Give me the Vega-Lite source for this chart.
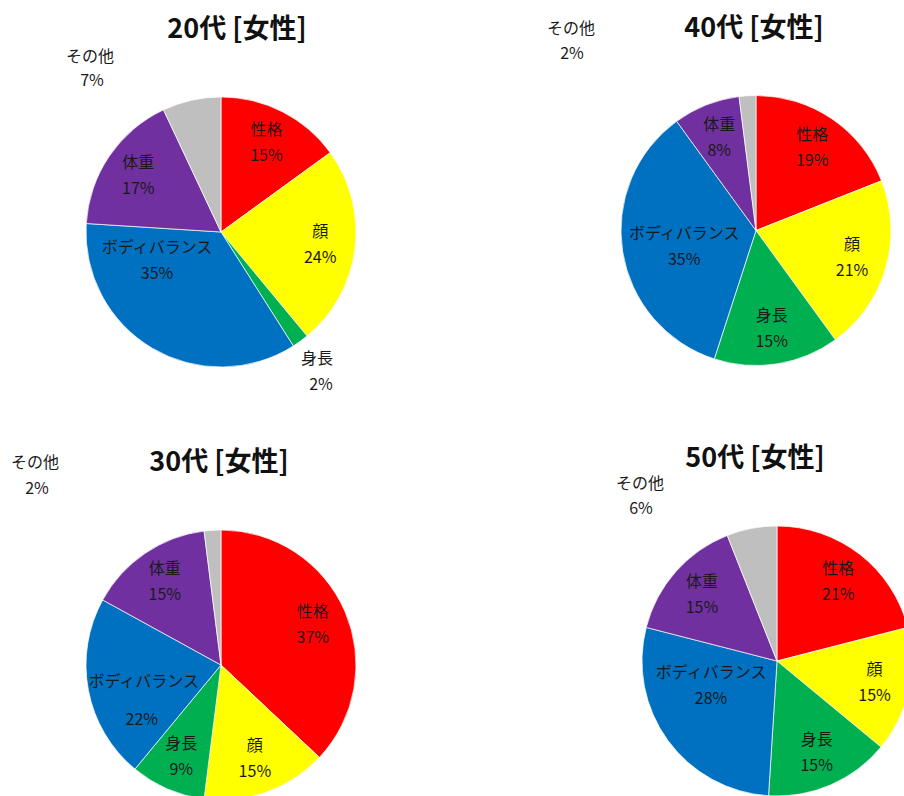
{
  "$schema": "https://vega.github.io/schema/vega-lite/v6.json",
  "background": "white",
  "padding": {"left": 10, "top": 14, "right": 0, "bottom": 0},
  "datasets": {
    "pie": [
      {"group": "20代", "no": 1, "item": "性格", "share": 0.15},
      {"group": "20代", "no": 2, "item": "顔", "share": 0.24},
      {"group": "20代", "no": 3, "item": "身長", "share": 0.02},
      {"group": "20代", "no": 4, "item": "ボディバランス", "share": 0.35},
      {"group": "20代", "no": 5, "item": "体重", "share": 0.17},
      {"group": "20代", "no": 6, "item": "その他", "share": 0.07},
      {"group": "40代", "no": 1, "item": "性格", "share": 0.19},
      {"group": "40代", "no": 2, "item": "顔", "share": 0.21},
      {"group": "40代", "no": 3, "item": "身長", "share": 0.15},
      {"group": "40代", "no": 4, "item": "ボディバランス", "share": 0.35},
      {"group": "40代", "no": 5, "item": "体重", "share": 0.08},
      {"group": "40代", "no": 6, "item": "その他", "share": 0.02},
      {"group": "30代", "no": 1, "item": "性格", "share": 0.37},
      {"group": "30代", "no": 2, "item": "顔", "share": 0.15},
      {"group": "30代", "no": 3, "item": "身長", "share": 0.09},
      {"group": "30代", "no": 4, "item": "ボディバランス", "share": 0.22},
      {"group": "30代", "no": 5, "item": "体重", "share": 0.15},
      {"group": "30代", "no": 6, "item": "その他", "share": 0.02},
      {"group": "50代", "no": 1, "item": "性格", "share": 0.21},
      {"group": "50代", "no": 2, "item": "顔", "share": 0.15},
      {"group": "50代", "no": 3, "item": "身長", "share": 0.15},
      {"group": "50代", "no": 4, "item": "ボディバランス", "share": 0.28},
      {"group": "50代", "no": 5, "item": "体重", "share": 0.15},
      {"group": "50代", "no": 6, "item": "その他", "share": 0.06}
    ]
  },
  "bounds": "flush",
  "columns": 2,
  "spacing": {"row": 164, "column": 265},
  "concat": [
    {
      "width": 270, "height": 268,
      "title": {"text": "20代 [女性]", "dx": 16, "dy": -1},
      "data": {"name": "pie"},
      "transform": [{"filter": "datum.group === '20代'"}],
      "encoding": {
        "theta": {"field": "share", "type": "quantitative", "stack": true},
        "order": {"field": "no", "type": "quantitative"}
      },
      "layer": [
        {"mark": {"type": "arc", "outerRadius": 135, "stroke": "white", "strokeWidth": 0.7},
         "encoding": {"color": {"field": "item", "type": "nominal", "legend": null,
           "scale": {"domain": ["性格", "顔", "身長", "ボディバランス", "体重", "その他"], "range": ["#FF0000", "#FFFF00", "#00B050", "#0070C0", "#7030A0", "#BFBFBF"]}}}},
        {"mark": {"type": "text", "radius": 100, "dy": -13},
         "encoding": {"text": {"field": "item", "type": "nominal"},
           "opacity": {"condition": {"test": "datum.item === 'その他' || datum.item === '身長' || datum.item === 'ボディバランス'", "value": 0}, "value": 1}}},
        {"mark": {"type": "text", "radius": 100, "dy": 13},
         "encoding": {"text": {"field": "share", "type": "quantitative", "format": ".0%"},
           "opacity": {"condition": {"test": "datum.item === 'その他' || datum.item === '身長' || datum.item === 'ボディバランス'", "value": 0}, "value": 1}}},
        {"mark": {"type": "text", "radius": 100, "dx": -13, "dy": -70},
         "encoding": {"text": {"field": "item", "type": "nominal"},
           "opacity": {"condition": {"test": "datum.item === 'ボディバランス'", "value": 1}, "value": 0}}},
        {"mark": {"type": "text", "radius": 100, "dx": -13, "dy": -44},
         "encoding": {"text": {"field": "share", "type": "quantitative", "format": ".0%"},
           "opacity": {"condition": {"test": "datum.item === 'ボディバランス'", "value": 1}, "value": 0}}},
        {"transform": [{"stack": "share", "groupby": [], "sort": [{"field": "no", "order": "ascending"}], "as": ["s0", "s1"]}, {"filter": "datum.item === 'その他'"}],
         "layer": [
           {"mark": {"type": "text", "radius": 150, "dx": -131, "dy": -25},
            "encoding": {"theta": {"field": "s1", "type": "quantitative", "stack": null}, "text": {"field": "item", "type": "nominal"}}},
           {"mark": {"type": "text", "radius": 150, "dx": -129, "dy": -1},
            "encoding": {"theta": {"field": "s1", "type": "quantitative", "stack": null}, "text": {"field": "share", "type": "quantitative", "format": ".0%"}}}
         ]},
        {"transform": [{"stack": "share", "groupby": [], "sort": [{"field": "no", "order": "ascending"}], "as": ["s0", "s1"]}, {"filter": "datum.item === '身長'"}],
         "layer": [
           {"mark": {"type": "text", "radius": 171, "dx": -13, "dy": -5},
            "encoding": {"theta": {"field": "s0", "type": "quantitative", "stack": null}, "text": {"field": "item", "type": "nominal"}}},
           {"mark": {"type": "text", "radius": 171, "dx": -9, "dy": 21},
            "encoding": {"theta": {"field": "s0", "type": "quantitative", "stack": null}, "text": {"field": "share", "type": "quantitative", "format": ".0%"}}}
         ]}
      ]
    },
    {
      "width": 270, "height": 265,
      "title": {"text": "40代 [女性]", "dx": -2, "dy": 26},
      "data": {"name": "pie"},
      "transform": [{"filter": "datum.group === '40代'"}],
      "encoding": {
        "theta": {"field": "share", "type": "quantitative", "stack": true},
        "order": {"field": "no", "type": "quantitative"}
      },
      "layer": [
        {"mark": {"type": "arc", "outerRadius": 135, "stroke": "white", "strokeWidth": 0.7},
         "encoding": {"color": {"field": "item", "type": "nominal", "legend": null,
           "scale": {"domain": ["性格", "顔", "身長", "ボディバランス", "体重", "その他"], "range": ["#FF0000", "#FFFF00", "#00B050", "#0070C0", "#7030A0", "#BFBFBF"]}}}},
        {"mark": {"type": "text", "radius": 100, "dy": -13},
         "encoding": {"text": {"field": "item", "type": "nominal"},
           "opacity": {"condition": {"test": "datum.item === 'その他' || datum.item === 'ボディバランス'", "value": 0}, "value": 1}}},
        {"mark": {"type": "text", "radius": 100, "dy": 13},
         "encoding": {"text": {"field": "share", "type": "quantitative", "format": ".0%"},
           "opacity": {"condition": {"test": "datum.item === 'その他' || datum.item === 'ボディバランス'", "value": 0}, "value": 1}}},
        {"mark": {"type": "text", "radius": 100, "dx": 27, "dy": -12},
         "encoding": {"text": {"field": "item", "type": "nominal"},
           "opacity": {"condition": {"test": "datum.item === 'ボディバランス'", "value": 1}, "value": 0}}},
        {"mark": {"type": "text", "radius": 100, "dx": 27, "dy": 14},
         "encoding": {"text": {"field": "share", "type": "quantitative", "format": ".0%"},
           "opacity": {"condition": {"test": "datum.item === 'ボディバランス'", "value": 1}, "value": 0}}},
        {"transform": [{"stack": "share", "groupby": [], "sort": [{"field": "no", "order": "ascending"}], "as": ["s0", "s1"]}, {"filter": "datum.item === 'その他'"}],
         "layer": [
           {"mark": {"type": "text", "radius": 150, "dx": -185, "dy": -52},
            "encoding": {"theta": {"field": "s1", "type": "quantitative", "stack": null}, "text": {"field": "item", "type": "nominal"}}},
           {"mark": {"type": "text", "radius": 150, "dx": -184, "dy": -27},
            "encoding": {"theta": {"field": "s1", "type": "quantitative", "stack": null}, "text": {"field": "share", "type": "quantitative", "format": ".0%"}}}
         ]}
      ]
    },
    {
      "width": 270, "height": 270,
      "title": {"text": "30代 [女性]", "dx": -2, "dy": 26},
      "data": {"name": "pie"},
      "transform": [{"filter": "datum.group === '30代'"}],
      "encoding": {
        "theta": {"field": "share", "type": "quantitative", "stack": true},
        "order": {"field": "no", "type": "quantitative"}
      },
      "layer": [
        {"mark": {"type": "arc", "outerRadius": 135, "stroke": "white", "strokeWidth": 0.7},
         "encoding": {"color": {"field": "item", "type": "nominal", "legend": null,
           "scale": {"domain": ["性格", "顔", "身長", "ボディバランス", "体重", "その他"], "range": ["#FF0000", "#FFFF00", "#00B050", "#0070C0", "#7030A0", "#BFBFBF"]}}}},
        {"mark": {"type": "text", "radius": 100, "dy": -13},
         "encoding": {"text": {"field": "item", "type": "nominal"},
           "opacity": {"condition": {"test": "datum.item === 'その他' || datum.item === 'ボディバランス'", "value": 0}, "value": 1}}},
        {"mark": {"type": "text", "radius": 100, "dy": 13},
         "encoding": {"text": {"field": "share", "type": "quantitative", "format": ".0%"},
           "opacity": {"condition": {"test": "datum.item === 'その他' || datum.item === 'ボディバランス'", "value": 0}, "value": 1}}},
        {"mark": {"type": "text", "radius": 100, "dx": 21, "dy": -2},
         "encoding": {"text": {"field": "item", "type": "nominal"},
           "opacity": {"condition": {"test": "datum.item === 'ボディバランス'", "value": 1}, "value": 0}}},
        {"mark": {"type": "text", "radius": 100, "dx": 19, "dy": 36},
         "encoding": {"text": {"field": "share", "type": "quantitative", "format": ".0%"},
           "opacity": {"condition": {"test": "datum.item === 'ボディバランス'", "value": 1}, "value": 0}}},
        {"transform": [{"stack": "share", "groupby": [], "sort": [{"field": "no", "order": "ascending"}], "as": ["s0", "s1"]}, {"filter": "datum.item === 'その他'"}],
         "layer": [
           {"mark": {"type": "text", "radius": 150, "dx": -186, "dy": -52},
            "encoding": {"theta": {"field": "s1", "type": "quantitative", "stack": null}, "text": {"field": "item", "type": "nominal"}}},
           {"mark": {"type": "text", "radius": 150, "dx": -184, "dy": -26},
            "encoding": {"theta": {"field": "s1", "type": "quantitative", "stack": null}, "text": {"field": "share", "type": "quantitative", "format": ".0%"}}}
         ]}
      ]
    },
    {
      "width": 312, "height": 262,
      "title": {"text": "50代 [女性]", "dx": -22, "dy": 1},
      "data": {"name": "pie"},
      "transform": [{"filter": "datum.group === '50代'"}],
      "encoding": {
        "theta": {"field": "share", "type": "quantitative", "stack": true},
        "order": {"field": "no", "type": "quantitative"}
      },
      "layer": [
        {"mark": {"type": "arc", "outerRadius": 135, "stroke": "white", "strokeWidth": 0.7},
         "encoding": {"color": {"field": "item", "type": "nominal", "legend": null,
           "scale": {"domain": ["性格", "顔", "身長", "ボディバランス", "体重", "その他"], "range": ["#FF0000", "#FFFF00", "#00B050", "#0070C0", "#7030A0", "#BFBFBF"]}}}},
        {"mark": {"type": "text", "radius": 100, "dy": -13},
         "encoding": {"text": {"field": "item", "type": "nominal"},
           "opacity": {"condition": {"test": "datum.item === 'その他' || datum.item === 'ボディバランス'", "value": 0}, "value": 1}}},
        {"mark": {"type": "text", "radius": 100, "dy": 13},
         "encoding": {"text": {"field": "share", "type": "quantitative", "format": ".0%"},
           "opacity": {"condition": {"test": "datum.item === 'その他' || datum.item === 'ボディバランス'", "value": 0}, "value": 1}}},
        {"mark": {"type": "text", "radius": 100, "dx": 15, "dy": -47},
         "encoding": {"text": {"field": "item", "type": "nominal"},
           "opacity": {"condition": {"test": "datum.item === 'ボディバランス'", "value": 1}, "value": 0}}},
        {"mark": {"type": "text", "radius": 100, "dx": 15, "dy": -21},
         "encoding": {"text": {"field": "share", "type": "quantitative", "format": ".0%"},
           "opacity": {"condition": {"test": "datum.item === 'ボディバランス'", "value": 1}, "value": 0}}},
        {"transform": [{"stack": "share", "groupby": [], "sort": [{"field": "no", "order": "ascending"}], "as": ["s0", "s1"]}, {"filter": "datum.item === 'その他'"}],
         "layer": [
           {"mark": {"type": "text", "radius": 150, "dx": -137, "dy": -27},
            "encoding": {"theta": {"field": "s1", "type": "quantitative", "stack": null}, "text": {"field": "item", "type": "nominal"}}},
           {"mark": {"type": "text", "radius": 150, "dx": -136, "dy": -2},
            "encoding": {"theta": {"field": "s1", "type": "quantitative", "stack": null}, "text": {"field": "share", "type": "quantitative", "format": ".0%"}}}
         ]}
      ]
    }
  ],
  "config": {
    "view": {"stroke": null},
    "title": {"font": "Noto Sans CJK JP", "fontSize": 27, "fontWeight": "bold", "color": "#111111", "anchor": "middle", "frame": "group", "baseline": "alphabetic", "offset": 0},
    "text": {"font": "Noto Sans CJK JP", "fontSize": 16, "color": "#1a1a1a"}
  }
}
